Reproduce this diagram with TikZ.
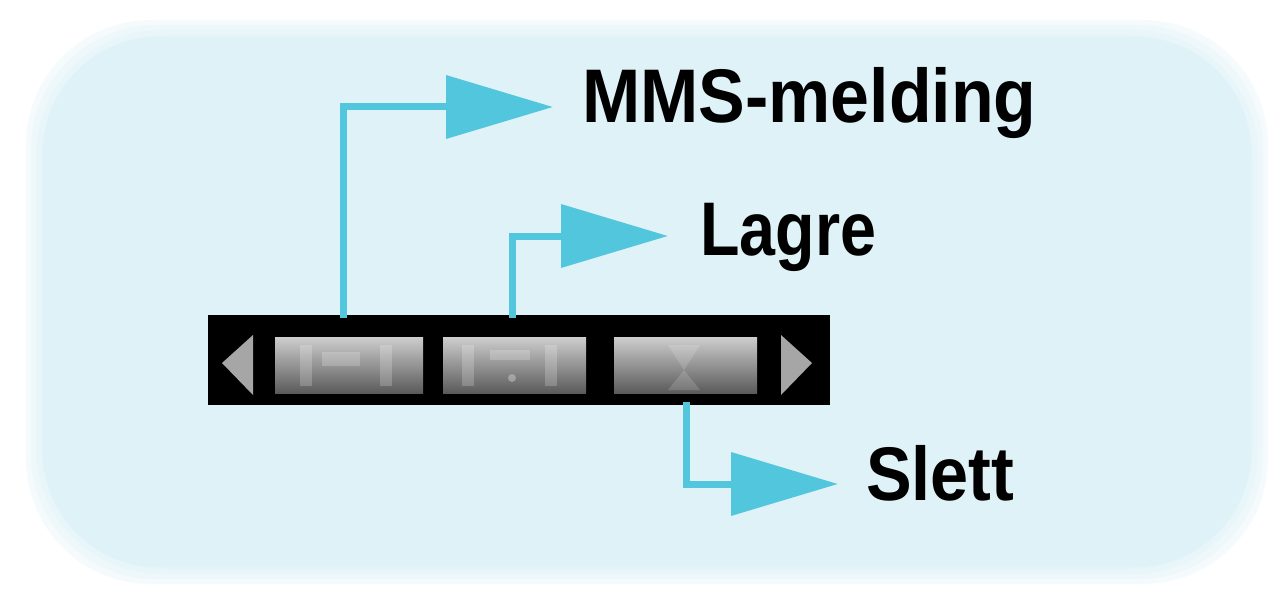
\documentclass[tikz,border=0pt]{standalone}
\usepackage{fontspec}
\setmainfont{Liberation Sans}
\usetikzlibrary{arrows.meta}
\definecolor{bgblue}{RGB}{222,242,248}
\definecolor{cyanline}{RGB}{82,198,220}
\definecolor{btntop}{RGB}{205,205,205}
\definecolor{btnbot}{RGB}{90,90,90}
\tikzset{
  lbl/.style={anchor=base west, inner sep=0pt, font=\fontsize{76}{80}\selectfont\bfseries, text=black},
  conn/.style={draw=cyanline, line width=7pt, line join=miter, -{Triangle[length=107pt,width=62pt]}},
  btn/.style={top color=btntop, bottom color=btnbot, draw=none},
  bglayer/.style={fill=bgblue, fill opacity=0.3, draw=none},
}
\begin{document}
\begin{tikzpicture}[x=1pt,y=-1pt]
\useasboundingbox (0,0) rectangle (1286,599);
\fill[white] (0,0) rectangle (1286,599);
% blurred rounded background
\foreach \d in {-14,-9,-4,1,6} {
  \fill[bglayer, rounded corners=125pt] (32-\d,26-\d) rectangle (1262+\d,578+\d);
}
\fill[bgblue, rounded corners=115pt] (43,37) rectangle (1251,567);
% black bar
\node[fill=black, minimum width=622pt, minimum height=90pt, inner sep=0pt, anchor=north west] (bar) at (208,315) {};
% buttons
\node[btn, minimum width=148pt, minimum height=56pt, inner sep=0pt, anchor=north west] (b1) at (275,337) {};
\node[btn, minimum width=143pt, minimum height=56pt, inner sep=0pt, anchor=north west] (b2) at (443,337) {};
\node[btn, minimum width=143pt, minimum height=56pt, inner sep=0pt, anchor=north west] (b3) at (614,337) {};
% faint glyphs in buttons
\fill[white, opacity=0.2] (300,345) rectangle (312,386);
\fill[white, opacity=0.2] (322,352) rectangle (360,366);
\fill[white, opacity=0.2] (380,345) rectangle (392,386);
\fill[white, opacity=0.2] (462,345) rectangle (474,386);
\fill[white, opacity=0.2] (490,350) rectangle (530,360);
\fill[white, opacity=0.3] (512,378) circle (4pt);
\fill[white, opacity=0.2] (545,345) rectangle (557,386);
\fill[white, opacity=0.15] (668,345) -- (700,345) -- (684,370) -- cycle;
\fill[white, opacity=0.15] (668,390) -- (700,390) -- (684,370) -- cycle;
% side triangles
\fill[gray!70] (222,363) -- (253,335) -- (253,395) -- cycle;
\fill[gray!70] (812,363) -- (781,335) -- (781,395) -- cycle;
% labels
\node[lbl, xscale=0.92] (mms) at (582,123) {MMS-melding};
\node[lbl, xscale=0.85] (lagre) at (700,255) {Lagre};
\node[lbl, xscale=0.9] (slett) at (866,500) {Slett};
% connector coordinates
\coordinate (s1) at (343,318);
\coordinate (s2) at (512,318);
\coordinate (s3) at (686,402);
\coordinate (t1) at (553,107);
\coordinate (t2) at (668,236);
\coordinate (t3) at (838,484);
\draw[conn] (s1) |- (t1);
\draw[conn] (s2) |- (t2);
\draw[conn] (s3) |- (t3);
\end{tikzpicture}
\end{document}
